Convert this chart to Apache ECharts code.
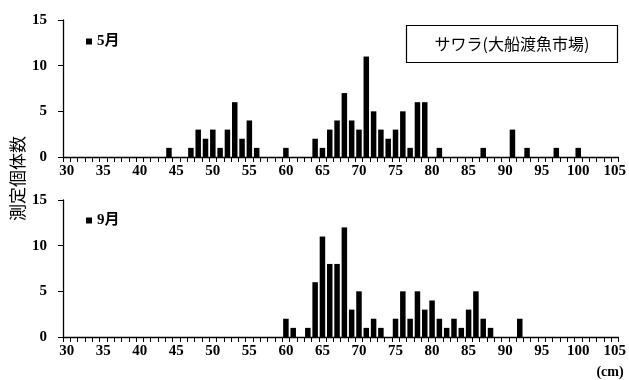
<!DOCTYPE html>
<html>
<head>
<meta charset="utf-8">
<script src="https://cdn.jsdelivr.net/npm/echarts@6/dist/echarts.min.js"></script>
<style>html,body{margin:0;padding:0;background:#fff}#c{width:629px;height:380px}</style>
</head>
<body>
<div id="c"></div>
<script>
var sizes = ['30','31','32','33','34','35','36','37','38','39',
             '40','41','42','43','44','45','46','47','48','49',
             '50','51','52','53','54','55','56','57','58','59',
             '60','61','62','63','64','65','66','67','68','69',
             '70','71','72','73','74','75','76','77','78','79',
             '80','81','82','83','84','85','86','87','88','89',
             '90','91','92','93','94','95','96','97','98','99',
             '100','101','102','103','104','105'];
var may = [0,0,0,0,0,0,0,0,0,0,
           0,0,0,0,1,0,0,1,3,2,
           3,1,3,6,2,4,1,0,0,0,
           1,0,0,0,2,1,3,4,7,4,
           3,11,5,3,2,3,5,1,6,6,
           0,1,0,0,0,0,0,1,0,0,
           0,3,0,1,0,0,0,1,0,0,
           1,0,0,0,0,0];
var sep = [0,0,0,0,0,0,0,0,0,0,
           0,0,0,0,0,0,0,0,0,0,
           0,0,0,0,0,0,0,0,0,0,
           2,1,0,1,6,11,8,8,12,3,
           5,1,2,1,0,2,5,2,5,3,
           4,2,1,2,1,3,5,2,1,0,
           0,0,2,0,0,0,0,0,0,0,
           0,0,0,0,0,0];
var yTicks = [0, 5, 10, 15];
var seriesNames = ['5月', '9月'];
var titleText = 'サワラ(大船渡魚市場)';
var yName = '測定個体数';
var unitText = '(cm)';

var serif = '"Liberation Serif","Times New Roman","Noto Sans CJK JP",serif';
var sans = '"Noto Sans CJK JP","Noto Sans",sans-serif';

function xAxis(gi) {
  return {
    type: 'category', gridIndex: gi, data: sizes, boundaryGap: true,
    axisLine: {lineStyle: {color: '#000', width: 1.3}},
    axisTick: {show: true, interval: 0, length: 5, inside: false, lineStyle: {color: '#000', width: 1}},
    axisLabel: {
      interval: function (i) { return i % 5 === 0; },
      color: '#000', fontFamily: serif, fontWeight: 'bold', fontSize: 15, margin: 7
    },
    splitLine: {show: false}
  };
}
function yAxis(gi) {
  return {
    type: 'value', gridIndex: gi, min: yTicks[0], max: yTicks[yTicks.length - 1], interval: 5,
    axisLine: {show: true, lineStyle: {color: '#000', width: 1.3}},
    axisTick: {show: true, length: 5, lineStyle: {color: '#000', width: 1}},
    axisLabel: {color: '#000', fontFamily: serif, fontWeight: 'bold', fontSize: 15, margin: 16},
    splitLine: {show: false}
  };
}

var chart = echarts.init(document.getElementById('c'), null, {renderer: 'canvas'});
chart.setOption({
  animation: false,
  backgroundColor: '#fff',
  grid: [
    {left: 63, right: 8, top: 20, height: 137},
    {left: 63, right: 8, top: 200, height: 137}
  ],
  xAxis: [xAxis(0), xAxis(1)],
  yAxis: [yAxis(0), yAxis(1)],
  legend: [
    {data: [seriesNames[0]], left: 81, top: 29, icon: 'rect', itemWidth: 6, itemHeight: 6, itemGap: 4,
     textStyle: {color: '#000', fontFamily: serif, fontWeight: 'bold', fontSize: 15}},
    {data: [seriesNames[1]], left: 81, top: 208, icon: 'rect', itemWidth: 6, itemHeight: 6, itemGap: 4,
     textStyle: {color: '#000', fontFamily: serif, fontWeight: 'bold', fontSize: 15}}
  ],
  series: [
    {name: seriesNames[0], type: 'bar', xAxisIndex: 0, yAxisIndex: 0, data: may,
     barWidth: 5.5, itemStyle: {color: '#000'}},
    {name: seriesNames[1], type: 'bar', xAxisIndex: 1, yAxisIndex: 1, data: sep,
     barWidth: 5.5, itemStyle: {color: '#000'}}
  ],
  graphic: [
    {type: 'rect', shape: {x: 406.5, y: 25.5, width: 211, height: 37},
     style: {fill: '#fff', stroke: '#000', lineWidth: 1.2}, z: 10},
    {type: 'text', x: 512, y: 44, z: 11,
     style: {text: titleText, fill: '#000', font: '16px ' + sans, align: 'center', verticalAlign: 'middle'}},
    {type: 'text', x: 18, y: 178.5, rotation: Math.PI / 2, z: 11,
     style: {text: yName, fill: '#000', font: '17px ' + sans,
             align: 'center', verticalAlign: 'middle'}},
    {type: 'text', x: 610, y: 372, z: 11,
     style: {text: unitText, fill: '#000', font: 'bold 14px ' + serif, align: 'center', verticalAlign: 'middle'}}
  ]
});
</script>
</body>
</html>
